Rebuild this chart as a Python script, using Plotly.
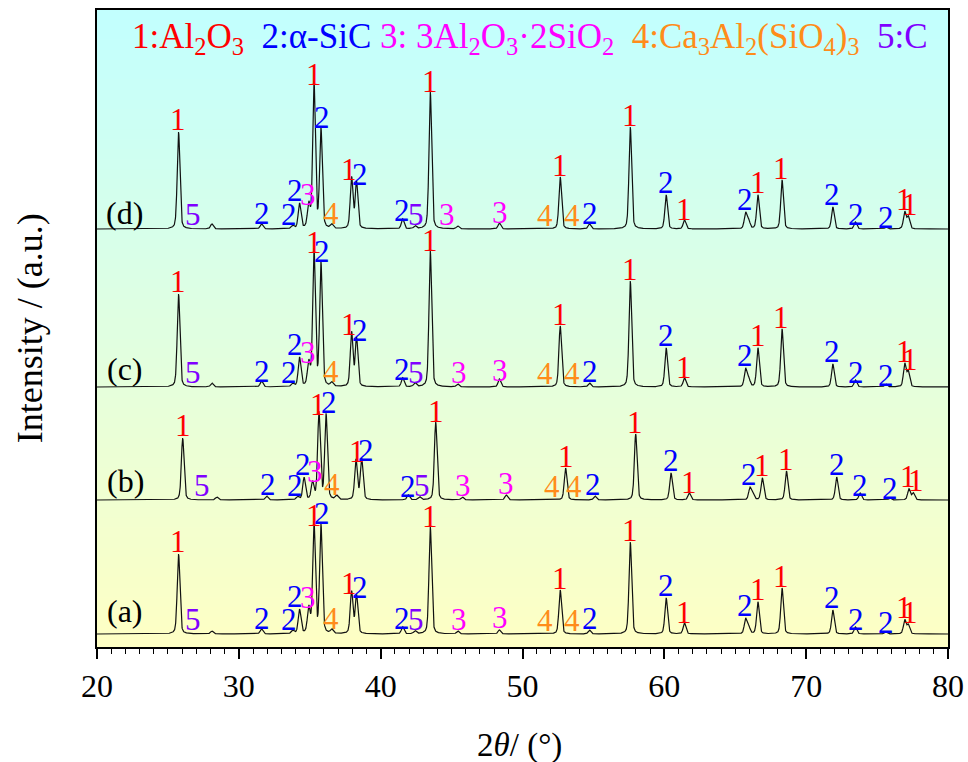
import numpy as np
import plotly.graph_objects as go

# ---------------- data ----------------
# peak positions (2theta, deg) for patterns a, c, d and for the shifted pattern b
peak_pos_acd = [25.75, 28.1, 31.6, 33.8, 34.28, 34.93, 35.3, 35.79, 36.55, 37.95, 38.3,
                41.55, 42.42, 43.5, 45.43, 48.37, 52.66, 54.72, 57.6, 60.13, 61.42,
                65.73, 65.95, 66.6, 68.3, 71.88, 73.47, 75.62, 76.95, 77.2]
peak_pos_b = [26.04, 28.45, 31.96, 34.15, 34.6, 35.2, 35.65, 36.15, 36.9, 38.26, 38.66,
              41.95, 42.75, 43.88, 45.75, 48.85, 53.04, 55.11, 57.98, 60.47, 61.76,
              66.04, 66.25, 66.91, 68.61, 72.15, 73.8, 75.9, 77.25, 77.55]
# peak heights above baseline (a.u.)
h_a = [80, 3, 5, 3, 24, 25, 110, 108, 4, 42, 38, 7, 3, 107, 3, 4, 44, 4, 92, 36, 11,
       15, 7, 32, 46, 24, 7, 2, 14, 9]
h_b = [62, 3, 4, 3, 22, 17, 87, 85, 4, 40, 41, 5, 3, 78, 3, 5, 32, 4, 66, 27, 7,
       12, 6, 22, 29, 23, 7, 2, 11, 7]
h_c = [93, 4, 6, 3, 29, 23, 136, 123, 4, 54, 48, 9, 4, 136, 3, 8, 61, 4, 106, 39, 9,
       18, 8, 39, 58, 23, 7, 3, 23, 15]
h_d = [97, 5, 5, 3, 25, 23, 146, 99, 4, 51, 46, 10, 3, 137, 3, 6, 52, 5, 102, 34, 9,
       16, 8, 34, 49, 22, 7, 2, 17, 12]
# vertical offsets of the stacked patterns
baselines = {"a": 13, "b": 147, "c": 260, "d": 418}
pattern_names = ["a", "b", "c", "d"]

# phase labels
label_text = ["1", "5", "2", "2", "2", "3", "1", "2", "4", "1", "2", "2", "5", "1", "3", "3",
              "4", "4", "2", "1", "1", "2", "1", "2", "1", "1", "2", "2", "2", "1", "1"]
label_peak = [0, None, None, None, 4, 5, 6, 7, None, 9, 10, 11, None, 13, None, None,
              None, None, None, 16, 18, 19, 20, 21, 23, 24, 25, None, None, 28, 29]
label_dy = [13, 15, 16, 15, 14, 12, 9, 13, 16, 9, 9, 9, 15, 11, 15, 17,
            14, 14, 16, 12, 12, 13, 11, 14, 13, 12, 13, 15, 12, 13, 13]
label_x_acd = [25.73, 26.8, 31.65, 33.57, 33.96, 34.9, 35.3, 35.86, 36.5, 37.77, 38.55,
               41.5, 42.5, 43.48, 45.5, 48.4, 51.6, 53.5, 54.78, 52.66, 57.6, 60.12,
               61.42, 65.72, 66.6, 68.25, 71.85, 73.5, 75.62, 76.92, 77.3]
label_x_b = [26.04, 27.38, 32.06, 33.96, 34.5, 35.37, 35.6, 36.37, 36.57, 38.3, 39.0,
             41.9, 42.9, 43.9, 45.8, 48.84, 52.1, 53.6, 55.0, 53.07, 57.93, 60.47,
             61.75, 65.97, 66.9, 68.58, 72.17, 73.8, 75.9, 77.2, 77.75]
label_x_d = list(label_x_acd)
label_x_d[14] = 44.68

x_ticks = [20, 30, 40, 50, 60, 70, 80]

phase_colors = {"1": "#FF0000", "2": "#0000FF", "3": "#FF00FF", "4": "#FF8C1A", "5": "#8000FF"}

positions = {"a": peak_pos_acd, "b": peak_pos_b, "c": peak_pos_acd, "d": peak_pos_acd}
heights = {"a": h_a, "b": h_b, "c": h_c, "d": h_d}
label_x = {"a": label_x_acd, "b": label_x_b, "c": label_x_acd, "d": label_x_d}

# ---------------- figure ----------------
FONT = "Liberation Serif, Times New Roman, serif"
grid = np.arange(20.0, 80.0001, 0.01)


def profile(pos, hts, fwhm=0.22, eta=0.35):
    y = np.zeros_like(grid)
    for p, h in zip(pos, hts):
        d = (grid - p) / (fwhm / 2)
        y += h * ((1 - eta) * np.exp(-np.log(2) * d ** 2) + eta / (1 + d ** 2))
    return y


fig = go.Figure()
for name in pattern_names:
    y = baselines[name] + profile(positions[name], heights[name])
    fig.add_trace(go.Scatter(x=grid, y=y, mode="lines",
                             line=dict(color="#111111", width=1.2),
                             showlegend=False, hoverinfo="skip"))

annotations = []
for name in pattern_names:
    base = baselines[name]
    hts = heights[name]
    for txt, pk, dy, lx in zip(label_text, label_peak, label_dy, label_x[name]):
        yv = base + (hts[pk] if pk is not None else 0) + dy
        annotations.append(dict(x=lx, y=yv, xref="x", yref="y", text=txt, showarrow=False,
                                font=dict(family=FONT, size=31, color=phase_colors[txt]),
                                xanchor="center", yanchor="middle"))

# pattern names
pat_label_pos = {"a": (21.95, 36), "b": (22.0, 166), "c": (21.95, 278), "d": (21.95, 434)}
for name in pattern_names:
    px, py = pat_label_pos[name]
    annotations.append(dict(x=px, y=py, xref="x", yref="y", text="(%s)" % name,
                            showarrow=False, font=dict(family=FONT, size=32, color="black"),
                            xanchor="center", yanchor="middle"))

legend_html = (
    "<span style='color:#FF0000'>1:Al<sub>2</sub>O<sub>3</sub></span>&nbsp;&nbsp;"
    "<span style='color:#0000FF'>2:α-SiC</span>&nbsp;"
    "<span style='color:#FF00FF'>3:&nbsp;3Al<sub>2</sub>O<sub>3</sub>·2SiO<sub>2</sub></span>&nbsp;&nbsp;"
    "<span style='color:#FF8C1A'>4:Ca<sub>3</sub>Al<sub>2</sub>(SiO<sub>4</sub>)<sub>3</sub></span>&nbsp;&nbsp;"
    "<span style='color:#8000FF'>5:C</span>"
)
annotations.append(dict(x=0.509, y=0.955, xref="paper", yref="paper", text=legend_html,
                        showarrow=False, font=dict(family=FONT, size=35),
                        xanchor="center", yanchor="middle"))

annotations.append(dict(x=-0.079, y=0.5, xref="paper", yref="paper",
                        text="Intensity / (a.u.)", textangle=-90, showarrow=False,
                        font=dict(family=FONT, size=36, color="black"),
                        xanchor="center", yanchor="middle"))
annotations.append(dict(x=0.497, y=-0.154, xref="paper", yref="paper",
                        text="2<i>θ</i>/ (°)", showarrow=False,
                        font=dict(family=FONT, size=33, color="black"),
                        xanchor="center", yanchor="middle"))

# vertical gradient background (yellow at bottom -> cyan at top)
shapes = []
n = 64
c0 = np.array([255, 255, 196])
c1 = np.array([194, 255, 255])
for i in range(n):
    t = (i + 0.5) / n
    c = c0 + (c1 - c0) * t
    shapes.append(dict(type="rect", xref="x domain", yref="y domain",
                       x0=0, x1=1, y0=i / n, y1=(i + 1) / n + 0.002,
                       fillcolor="rgb(%d,%d,%d)" % tuple(c.astype(int)),
                       line=dict(width=0), layer="below"))

fig.update_layout(
    width=968, height=762,
    margin=dict(l=97, r=20, t=10, b=115, autoexpand=False),
    paper_bgcolor="white", plot_bgcolor="white",
    annotations=annotations, shapes=shapes,
    xaxis=dict(range=[20, 80], tickvals=x_ticks, ticks="outside", ticklen=10, tickwidth=1.5,
               tickcolor="black", showline=True, linecolor="black", linewidth=1.8,
               mirror=True, showgrid=False, zeroline=False, ticklabeloverflow="allow",
               automargin=False,
               tickfont=dict(family=FONT, size=32, color="black"),
               minor=dict(dtick=1, ticks="outside", ticklen=5, tickwidth=1.2, tickcolor="black")),
    yaxis=dict(range=[0, 637], showticklabels=False, ticks="", showline=True, automargin=False,
               linecolor="black", linewidth=1.8, mirror=True, showgrid=False, zeroline=False),
)

# remove the default page margin so the figure starts at the window's corner
fig.write_html(
    "out.html",
    config={"displayModeBar": False},
    post_script="document.body.style.margin='0';document.body.style.overflow='hidden';",
)
